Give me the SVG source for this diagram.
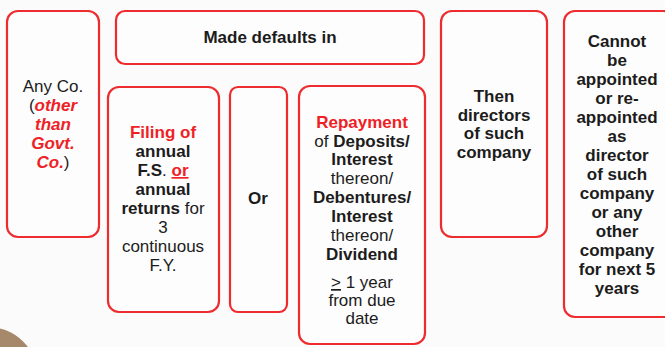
<svg xmlns="http://www.w3.org/2000/svg" width="665" height="347" viewBox="0 0 665 347">
<style>
.box{fill:#fdfdfd;stroke:#ee2b2e;stroke-width:2.2}
text{font-family:"Liberation Sans",Arial,sans-serif;font-size:17px;fill:#1c1c1c;text-anchor:middle}
.b{font-weight:bold}
.r{fill:#ee2226}
.i{font-style:italic}
.u{text-decoration:underline}
</style>
<rect width="665" height="347" fill="#fbfbfb"/>
<circle cx="-12" cy="377" r="50" fill="#a5896a"/>
<g id="connectors"/>
<g id="any-co">
<rect class="box" x="7" y="11" width="92" height="226" rx="11"/>
<text x="53" y="92">Any Co.</text>
<text x="53" y="111">(<tspan class="b i r">other</tspan></text>
<text x="53" y="130" class="b i r">than</text>
<text x="53" y="149" class="b i r">Govt.</text>
<text x="53" y="168"><tspan class="b i r">Co.</tspan>)</text>
</g>
<g id="made-defaults">
<rect class="box" x="116" y="11" width="308" height="53" rx="9"/>
<text x="270" y="43" class="b">Made defaults in</text>
</g>
<g id="filing">
<rect class="box" x="108" y="87" width="111" height="225" rx="11"/>
<text x="163" y="138" class="b r">Filing of</text>
<text x="163" y="157" class="b">annual</text>
<text x="163" y="176"><tspan class="b">F.S</tspan>. <tspan class="b r u">or</tspan></text>
<text x="163" y="195" class="b">annual</text>
<text x="163" y="214"><tspan class="b">returns</tspan> for</text>
<text x="163" y="233">3</text>
<text x="163" y="252">continuous</text>
<text x="163" y="271">F.Y.</text>
</g>
<g id="or">
<rect class="box" x="230" y="87" width="57" height="225" rx="8"/>
<text x="258" y="204" class="b">Or</text>
</g>
<g id="repayment">
<rect class="box" x="299" y="86" width="126" height="258" rx="11"/>
<text x="362" y="128" class="b r">Repayment</text>
<text x="362" y="147">of <tspan class="b">Deposits/</tspan></text>
<text x="362" y="165" class="b">Interest</text>
<text x="362" y="184">thereon/</text>
<text x="362" y="203" class="b">Debentures/</text>
<text x="362" y="222" class="b">Interest</text>
<text x="362" y="241">thereon/</text>
<text x="362" y="260" class="b">Dividend</text>
<text x="362" y="288"><tspan class="u">&gt;</tspan> 1 year</text>
<text x="362" y="306">from due</text>
<text x="362" y="324">date</text>
</g>
<g id="then-directors">
<rect class="box" x="441" y="11" width="106" height="226" rx="11"/>
<text x="494" y="102" class="b">Then</text>
<text x="494" y="121" class="b">directors</text>
<text x="494" y="139" class="b">of such</text>
<text x="494" y="158" class="b">company</text>
</g>
<g id="cannot">
<rect class="box" x="564" y="11" width="110" height="306" rx="11"/>
<g class="b">
<text x="617" y="47" class="b">Cannot</text>
<text x="617" y="66" class="b">be</text>
<text x="617" y="85" class="b">appointed</text>
<text x="617" y="104" class="b">or re-</text>
<text x="617" y="123" class="b">appointed</text>
<text x="617" y="142" class="b">as</text>
<text x="617" y="161" class="b">director</text>
<text x="617" y="180" class="b">of such</text>
<text x="617" y="199" class="b">company</text>
<text x="617" y="218" class="b">or any</text>
<text x="617" y="237" class="b">other</text>
<text x="617" y="256" class="b">company</text>
<text x="617" y="275" class="b">for next 5</text>
<text x="617" y="294" class="b">years</text>
</g>
</g>
</svg>
